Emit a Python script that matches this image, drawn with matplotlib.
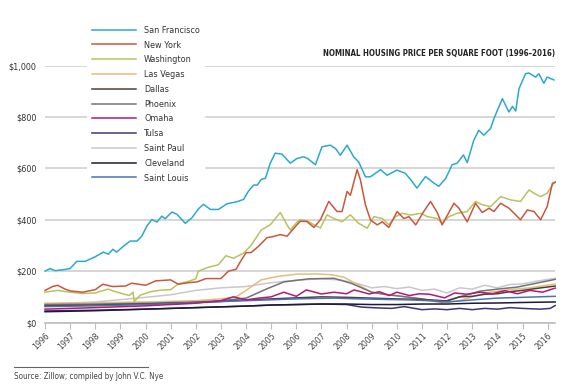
import matplotlib
matplotlib.use("Agg")
import matplotlib.pyplot as plt

# ---- data ----
sf_x = [1996.0, 1996.2, 1996.4, 1996.7, 1997.0, 1997.26, 1997.6, 1998.0, 1998.32, 1998.52, 1998.7, 1998.85,
        1999.12, 1999.39, 1999.66, 1999.85, 2000.05, 2000.25, 2000.45, 2000.65, 2000.78, 2001.05, 2001.25,
        2001.58, 2001.85, 2002.11, 2002.31, 2002.58, 2002.9, 2003.24, 2003.64, 2003.9, 2004.1, 2004.3,
        2004.45, 2004.6, 2004.77, 2004.96, 2005.16, 2005.43, 2005.76, 2006.02, 2006.29, 2006.45, 2006.76,
        2007.02, 2007.35, 2007.56, 2007.75, 2008.02, 2008.28, 2008.48, 2008.75, 2008.95, 2009.35, 2009.61,
        2010.0, 2010.33, 2010.55, 2010.8, 2011.14, 2011.47, 2011.67, 2011.94, 2012.2, 2012.4, 2012.65,
        2012.8, 2013.06, 2013.26, 2013.46, 2013.73, 2013.86, 2014.2, 2014.46, 2014.6, 2014.73, 2014.86,
        2015.12, 2015.25, 2015.52, 2015.65, 2015.85, 2015.98, 2016.25]
sf_y = [200, 210, 202, 205, 210, 238, 238, 256, 274, 266, 285, 274,
        297, 317, 317, 336, 375, 401, 391, 414, 404, 430, 421,
        386, 408, 443, 460, 440, 440, 462, 470, 479, 512, 535,
        535, 557, 561, 620, 659, 655, 620, 638, 645, 638, 614,
        684, 690, 677, 651, 690, 645, 625, 567, 567, 595, 573,
        593, 581, 556, 523, 568, 543, 530, 560, 614, 620, 652,
        622, 709, 748, 729, 755, 793, 871, 819, 841, 823, 910,
        968, 971, 955, 968, 931, 955, 944]

ny_x = [1996.0, 1996.3, 1996.5, 1996.8, 1997.0, 1997.5, 1998.0, 1998.3, 1998.7, 1999.2, 1999.45, 2000.0,
        2000.4, 2001.0, 2001.3, 2001.7, 2002.05, 2002.4, 2003.0, 2003.3, 2003.6, 2003.75, 2004.0, 2004.2,
        2004.5, 2004.83, 2005.1, 2005.36, 2005.63, 2006.02, 2006.16, 2006.42, 2006.7, 2006.96, 2007.29,
        2007.62, 2007.82, 2008.02, 2008.15, 2008.42, 2008.55, 2008.75, 2008.95, 2009.22, 2009.42, 2009.68,
        2010.01, 2010.28, 2010.48, 2010.75, 2011.07, 2011.34, 2011.61, 2011.8, 2012.27, 2012.47, 2012.8,
        2013.13, 2013.4, 2013.67, 2013.86, 2014.13, 2014.46, 2014.92, 2015.19, 2015.46, 2015.72, 2015.98,
        2016.19, 2016.3]
ny_y = [125, 140, 145, 130, 123, 118, 128, 149, 140, 142, 153, 145,
        162, 166, 149, 155, 158, 171, 171, 200, 207, 233, 272, 272,
        297, 330, 335, 342, 336, 380, 394, 393, 370, 400, 471,
        432, 432, 510, 495, 595, 555, 458, 399, 380, 392, 370,
        432, 405, 412, 380, 432, 471, 428, 380, 464, 445, 392,
        464, 428, 445, 432, 464, 445, 400, 438, 432, 400, 451,
        542, 545]

wa_x = [1996.0, 1996.5, 1997.0, 1997.5, 1998.0, 1998.5, 1998.8, 1999.1, 1999.35, 1999.5, 1999.55, 1999.8,
        2000.2, 2000.6, 2001.0, 2001.3, 2001.7, 2002.0, 2002.1, 2002.5, 2002.9, 2003.2, 2003.5, 2003.9,
        2004.2, 2004.6, 2004.96, 2005.36, 2005.63, 2005.76, 2006.02, 2006.16, 2006.45, 2006.7, 2006.96,
        2007.22, 2007.49, 2007.82, 2008.15, 2008.48, 2008.82, 2009.08, 2009.42, 2009.68, 2009.95, 2010.21,
        2010.55, 2010.95, 2011.21, 2011.61, 2011.8, 2012.07, 2012.4, 2012.8, 2013.13, 2013.4, 2013.73,
        2014.13, 2014.53, 2014.92, 2015.26, 2015.46, 2015.72, 2015.98, 2016.19, 2016.3]
wa_y = [118, 125, 118, 113, 115, 130, 120, 112, 105, 118, 82, 107,
        120, 126, 128, 150, 160, 170, 200, 215, 225, 260, 250, 270,
        300, 360, 380, 428, 380, 360, 390, 400, 395, 380, 368,
        419, 405, 392, 419, 386, 367, 412, 405, 380, 412, 425,
        418, 425, 412, 405, 386, 412, 425, 432, 471, 458, 451,
        490, 477, 471, 516, 503, 490, 503, 535, 548]

lv_x = [1996, 1998, 2000, 2002, 2003, 2003.6, 2004.0, 2004.6, 2005.3, 2006.0, 2006.8, 2007.4, 2007.9,
        2008.4, 2009.0, 2009.6, 2010.3, 2011.0, 2011.8, 2012.5, 2013.0, 2013.7, 2014.5, 2015.3, 2016.3]
lv_y = [75, 77, 80, 85, 92, 100, 125, 166, 180, 188, 189, 186, 176,
        150, 118, 108, 100, 90, 76, 85, 100, 118, 128, 135, 150]

phx_x = [1996, 1998, 2000, 2002, 2003, 2004, 2004.8, 2005.5, 2006.5, 2007.5, 2008.2, 2009.0, 2009.5,
         2010.2, 2011.0, 2011.8, 2012.5, 2013.3, 2014.0, 2014.8, 2015.5, 2016.3]
phx_y = [70, 72, 75, 80, 85, 95, 130, 158, 170, 172, 152, 118, 110,
         102, 92, 80, 100, 122, 130, 138, 152, 168]

stp_x = [1996, 1998, 2000, 2001, 2002, 2003, 2004, 2005, 2006, 2007, 2007.8, 2008.5, 2009.0, 2009.5,
         2010.0, 2010.5, 2011.0, 2011.5, 2012.0, 2012.5, 2013.0, 2013.5, 2014.0, 2014.5, 2015.0, 2015.5, 2016.3]
stp_y = [72, 80, 98, 108, 125, 135, 140, 155, 165, 170, 165, 150, 135, 140,
         132, 138, 125, 130, 115, 135, 130, 145, 135, 148, 150, 160, 172]

dal_x = [1996, 1998, 2000, 2002, 2003, 2004, 2005, 2006, 2007, 2008, 2009, 2010, 2011, 2012, 2012.5,
         2013, 2013.5, 2014, 2014.5, 2015, 2015.5, 2016.3]
dal_y = [65, 68, 72, 78, 82, 88, 92, 96, 100, 98, 95, 92, 90, 84, 100,
         102, 110, 112, 120, 125, 132, 142]

oma_x = [1996, 1998, 2000, 2002, 2003, 2003.5, 2004, 2004.5, 2005, 2005.5, 2006.0, 2006.4, 2007.0,
         2007.5, 2008.0, 2008.3, 2008.9, 2009.3, 2009.7, 2010.0, 2010.5, 2010.9, 2011.3, 2011.9,
         2012.3, 2012.8, 2013.3, 2013.8, 2014.3, 2014.8, 2015.3, 2015.8, 2016.3]
oma_y = [52, 58, 65, 75, 85, 100, 88, 95, 100, 118, 102, 127, 111,
         118, 112, 127, 111, 120, 105, 118, 105, 112, 110, 96,
         115, 110, 118, 112, 124, 112, 125, 118, 134]

tul_x = [1996, 1998, 2000, 2002, 2004, 2005, 2006, 2007, 2008, 2008.6, 2009.2, 2009.8, 2010.3, 2010.7,
         2011.0, 2011.5, 2012.0, 2012.5, 2013.0, 2013.5, 2014.0, 2014.5, 2015.0, 2015.7, 2016.1, 2016.3]
tul_y = [45, 48, 52, 58, 64, 68, 70, 72, 70, 60, 57, 55, 62, 55,
         50, 53, 50, 55, 50, 55, 52, 58, 55, 52, 55, 66]

cle_x = [1996, 1998, 2000, 2002, 2004, 2005, 2006, 2007, 2008, 2009, 2010, 2011, 2012, 2013, 2014, 2015, 2016.3]
cle_y = [42, 46, 52, 58, 64, 68, 70, 72, 72, 70, 70, 72, 72, 75, 76, 78, 80]

stl_x = [1996, 1998, 2000, 2002, 2004, 2006, 2007.5, 2008.5, 2009.5, 2010.5, 2011.5, 2012.0, 2013, 2014,
         2015, 2016.3]
stl_y = [62, 65, 70, 78, 85, 92, 95, 92, 90, 88, 84, 80, 88, 95, 98, 102]

cities = ["San Francisco", "New York", "Washington", "Las Vegas", "Dallas", "Phoenix",
          "Omaha", "Tulsa", "Saint Paul", "Cleveland", "Saint Louis"]
colors = ["#2ba9cd", "#c9573e", "#b9c25f", "#e4bd7a", "#4e4038", "#707479",
          "#b4197a", "#3b3872", "#c9c7cc", "#1d1939", "#4a73b6"]
xs = [sf_x, ny_x, wa_x, lv_x, dal_x, phx_x, oma_x, tul_x, stp_x, cle_x, stl_x]
ys = [sf_y, ny_y, wa_y, lv_y, dal_y, phx_y, oma_y, tul_y, stp_y, cle_y, stl_y]

years = list(range(1996, 2017))
yticks = [0, 200, 400, 600, 800, 1000]
ylabels = ["$0", "$200", "$400", "$600", "$800", "$1,000"]

fnt = "DejaVu Sans"
cond = "condensed"

fig = plt.figure(figsize=(5.7, 3.9), dpi=100)
ax = fig.add_axes([0.079, 0.173, 0.895, 0.659])

# draw back-to-front so SF/NY/WA sit on top
order = [8, 3, 5, 4, 10, 6, 7, 9, 2, 1, 0]
handles = {}
for i in order:
    ln, = ax.plot(xs[i], ys[i], color=colors[i], lw=1.1, label=cities[i], clip_on=False)
    handles[i] = ln

ax.set_xlim(1996, 2016.3)
ax.set_ylim(0, 1000)
ax.set_yticks(yticks)
ax.set_yticklabels(ylabels, family=fnt, stretch=cond, fontsize=6.5, color="#333333")
ax.set_xticks(years)
ax.set_xticklabels([str(y) for y in years], rotation=45, ha="right", rotation_mode="anchor",
                   family=fnt, stretch=cond, fontsize=6.2, color="#444444")
ax.grid(axis="y", color="#cfcfcf", lw=1.2)
ax.set_axisbelow(True)
for s in ["top", "right", "left"]:
    ax.spines[s].set_visible(False)
ax.spines["bottom"].set_color("#bdbdbd")
ax.spines["bottom"].set_linewidth(1.2)
ax.tick_params(axis="x", length=4, color="#bdbdbd", pad=2)
ax.tick_params(axis="y", length=0, pad=6)

leg = fig.legend([handles[i] for i in range(len(cities))], cities, loc="upper left",
                 bbox_to_anchor=(0.145, 0.957), frameon=True, fancybox=False, framealpha=1,
                 edgecolor="white", facecolor="white",
                 prop={"family": fnt, "stretch": cond, "size": 6.5},
                 handlelength=4.9, labelspacing=0.64, handletextpad=0.9, borderpad=0.5)
for t in leg.get_texts():
    t.set_color("#333333")

fig.text(0.974, 0.862, "NOMINAL HOUSING PRICE PER SQUARE FOOT (1996\u20132016)", ha="right",
         va="center", family=fnt, stretch=cond, fontweight="bold", fontsize=5.7, color="#222222")

fig.add_artist(plt.Line2D([0.025, 0.26], [0.059, 0.059], color="#666666", lw=0.8))
fig.text(0.025, 0.035, "Source: Zillow; compiled by John V.C. Nye", ha="left", va="center",
         family=fnt, stretch=cond, fontsize=5.8, color="#444444")

fig.savefig("out.png", dpi=100)
